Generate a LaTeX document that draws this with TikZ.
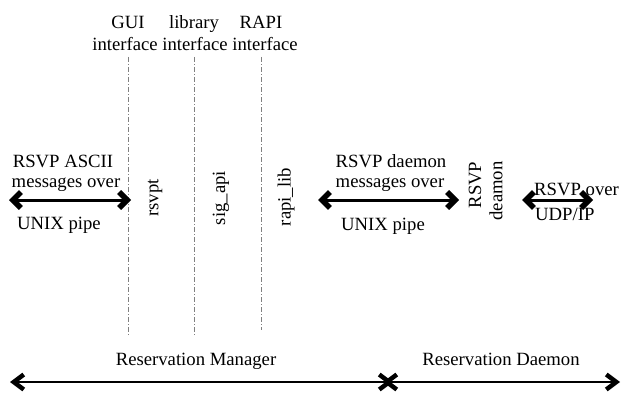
\documentclass[tikz,border=0pt]{standalone}
\usepackage{fontspec}
\setmainfont{Liberation Serif}
\usetikzlibrary{arrows.meta}
\begin{document}
\begin{tikzpicture}[x=1pt,y=-1pt,
  lbl/.style={inner sep=0pt,font=\fontsize{18.7}{22}\selectfont},
  vlbl/.style={lbl,rotate=90},
  ifline/.style={gray,line width=0.6pt,dash pattern=on 5pt off 2pt on 1pt off 2pt},
  bigarrow/.style={line width=3pt,{Straight Barb[length=8pt,width=16pt,line width=5.5pt]}-{Straight Barb[length=8pt,width=16pt,line width=5.5pt]}},
  basearrow/.style={line width=2.2pt,{Straight Barb[length=10pt,width=15pt,line width=4.5pt]}-{Straight Barb[length=10pt,width=15pt,line width=4.5pt]}}]
\useasboundingbox (0,0) rectangle (621,396);

% interface labels
\node[lbl,anchor=base] (gui1) at (128,29) {GUI};
\node[lbl,anchor=base] (gui2) at (125,51) {interface};
\node[lbl,anchor=base] (lib1) at (194,29) {library};
\node[lbl,anchor=base] (lib2) at (195,51) {interface};
\node[lbl,anchor=base] (rapi1) at (261,29) {RAPI};
\node[lbl,anchor=base] (rapi2) at (265,51) {interface};

% interface lines
\coordinate (l1t) at (128,57); \coordinate (l1b) at (128,335);
\coordinate (l2t) at (194,57); \coordinate (l2b) at (194,335);
\coordinate (l3t) at (261,57); \coordinate (l3b) at (261,330);
\draw[ifline] (l1t) -- (l1b);
\draw[ifline] (l2t) -- (l2b);
\draw[ifline] (l3t) -- (l3b);

% rotated module names
\node[vlbl] (rsvpt) at (155,198) {rsvpt};
\node[vlbl] (sigapi) at (221,198) {sig\_api};
\node[vlbl] (rapilib) at (286,197) {rapi\_lib};
\node[vlbl] (rsvpd1) at (475,185) {RSVP};
\node[vlbl] (rsvpd2) at (496,191) {deamon};

% left arrow
\coordinate (a1l) at (9,200); \coordinate (a1r) at (131,200);
\draw[bigarrow] (a1l) -- (a1r);
\node[lbl,anchor=base] (t1a) at (63,167) {RSVP ASCII};
\node[lbl,anchor=base] (t1b) at (66,187) {messages over};
\node[lbl,anchor=base] (t1c) at (59,229) {UNIX pipe};

% middle arrow
\coordinate (a2l) at (318,200); \coordinate (a2r) at (459,200);
\draw[bigarrow] (a2l) -- (a2r);
\node[lbl,anchor=base] (t2a) at (391,167) {RSVP daemon};
\node[lbl,anchor=base] (t2b) at (390,187) {messages over};
\node[lbl,anchor=base] (t2c) at (383,230) {UNIX pipe};

% right arrow
\coordinate (a3l) at (522,200); \coordinate (a3r) at (593,200);
\draw[bigarrow] (a3l) -- (a3r);
\node[lbl,anchor=base west] (t3a) at (534,195) {RSVP over};
\node[lbl,anchor=base west] (t3b) at (535,220) {UDP/IP};

% bottom spans
\coordinate (b1) at (10,382); \coordinate (bm1) at (393,382);
\coordinate (bm2) at (383,382); \coordinate (b2) at (620,382);
\draw[basearrow] (b1) -- (bm1);
\draw[basearrow] (bm2) -- (b2);
\node[lbl,anchor=base] (rm) at (196,365) {Reservation Manager};
\node[lbl,anchor=base] (rd) at (501,365) {Reservation Daemon};
\end{tikzpicture}
\end{document}
